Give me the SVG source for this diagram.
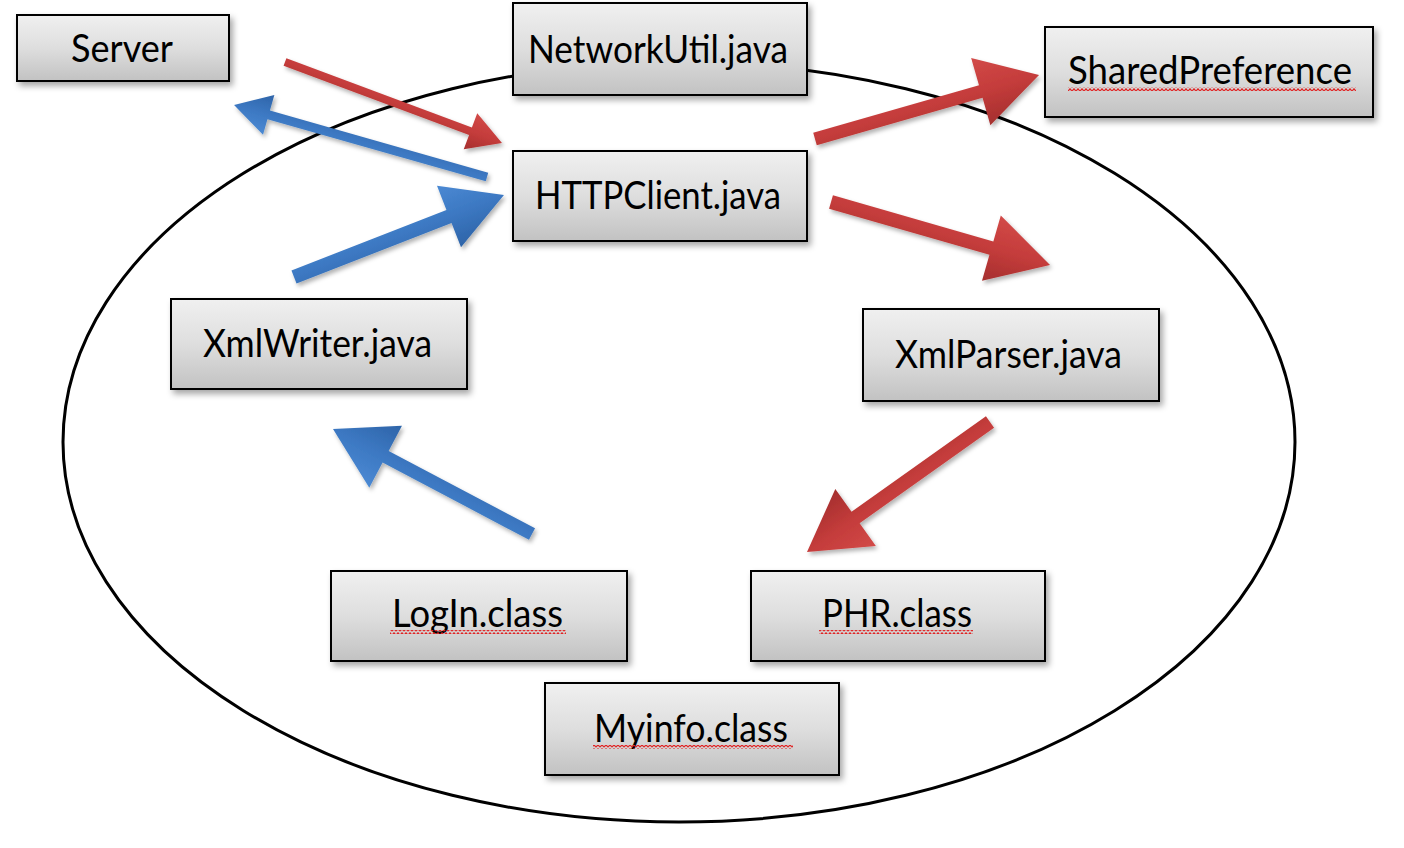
<svg xmlns="http://www.w3.org/2000/svg" width="1404" height="848" viewBox="0 0 1404 848">
<defs>
<linearGradient id="boxg" x1="0" y1="0" x2="0" y2="1"><stop offset="0" stop-color="#f0f0f0"/><stop offset="0.5" stop-color="#dedede"/><stop offset="1" stop-color="#c2c2c2"/></linearGradient>
<linearGradient id="redg" x1="0" y1="0" x2="0" y2="1"><stop offset="0" stop-color="#d24a48"/><stop offset="0.5" stop-color="#c43c3b"/><stop offset="1" stop-color="#a52f2e"/></linearGradient>
<linearGradient id="blueg" x1="0" y1="0" x2="0" y2="1"><stop offset="0" stop-color="#4b89d3"/><stop offset="0.5" stop-color="#3c78c2"/><stop offset="1" stop-color="#2e64a8"/></linearGradient>
<filter id="bshadow" x="-10%" y="-20%" width="130%" height="150%"><feDropShadow dx="3" dy="4" stdDeviation="3" flood-color="#000" flood-opacity="0.35"/></filter>
<filter id="ashadow" x="-10%" y="-20%" width="130%" height="150%"><feDropShadow dx="2" dy="3" stdDeviation="2" flood-color="#000" flood-opacity="0.3"/></filter>
<pattern id="sq" width="4" height="4" patternUnits="userSpaceOnUse"><path d="M0,3.2 L2,0.8 L4,3.2" fill="none" stroke="#e02424" stroke-width="1.2"/></pattern>
</defs>
<style>
.box{fill:url(#boxg);stroke:#000;stroke-width:2;filter:url(#bshadow)}
.lbl{font-family:Lato,"Liberation Sans",sans-serif;font-size:38px;fill:#000}
.red{fill:url(#redg)}
.blue{fill:url(#blueg)}
.sq{fill:url(#sq)}
</style>
<rect width="1404" height="848" fill="#fff"/>
<ellipse cx="679" cy="442" rx="616" ry="380" fill="none" stroke="#000" stroke-width="3"/>

<g id="Server"><rect class="box" x="17" y="15" width="212" height="66"/><text class="lbl" x="71" y="62" textLength="102" lengthAdjust="spacingAndGlyphs">Server</text></g>
<g id="NetworkUtil"><rect class="box" x="513" y="3" width="294" height="92"/><text class="lbl" x="528" y="63" textLength="260" lengthAdjust="spacingAndGlyphs">NetworkUtil.java</text></g>
<g id="HTTPClient"><rect class="box" x="513" y="151" width="294" height="90"/><text class="lbl" x="535" y="209" textLength="246" lengthAdjust="spacingAndGlyphs">HTTPClient.java</text></g>
<g id="SharedPreference"><rect class="box" x="1045" y="27" width="328" height="90"/><text class="lbl" x="1068" y="84" textLength="284" lengthAdjust="spacingAndGlyphs">SharedPreference</text><rect class="sq" x="1068" y="87" width="288" height="4"/></g>
<g id="XmlWriter"><rect class="box" x="171" y="299" width="296" height="90"/><text class="lbl" x="203" y="357" textLength="229" lengthAdjust="spacingAndGlyphs">XmlWriter.java</text></g>
<g id="XmlParser"><rect class="box" x="863" y="309" width="296" height="92"/><text class="lbl" x="895" y="368" textLength="227" lengthAdjust="spacingAndGlyphs">XmlParser.java</text></g>
<g id="LogIn"><rect class="box" x="331" y="571" width="296" height="90"/><text class="lbl" x="392" y="627" textLength="171" lengthAdjust="spacingAndGlyphs">LogIn.class</text><rect class="sq" x="390" y="630" width="176" height="4"/></g>
<g id="PHR"><rect class="box" x="751" y="571" width="294" height="90"/><text class="lbl" x="822" y="627" textLength="150" lengthAdjust="spacingAndGlyphs">PHR.class</text><rect class="sq" x="819" y="630" width="154" height="4"/></g>
<g id="Myinfo"><rect class="box" x="545" y="683" width="294" height="92"/><text class="lbl" x="594" y="742" textLength="194" lengthAdjust="spacingAndGlyphs">Myinfo.class</text><rect class="sq" x="593" y="745" width="200" height="4"/></g>

<g id="connectors">
<g filter="url(#ashadow)"><polygon class="red" transform="translate(285,62) rotate(20.47)" points="0,-4 198,-4 198,-19.3 231.6,0 198,19.3 198,4 0,4"/></g>
<g filter="url(#ashadow)"><polygon class="blue" transform="translate(487,177) rotate(-164.1)" points="0,-4.5 227,-4.5 227,-20.7 263,0 227,20.7 227,4.5 0,4.5"/></g>
<g filter="url(#ashadow)"><polygon class="blue" transform="translate(294,277) rotate(-21.33)" points="0,-7 166.4,-7 166.4,-33 225.4,0 166.4,33 166.4,7 0,7"/></g>
<g filter="url(#ashadow)"><polygon class="red" transform="translate(815,139) rotate(-15.95)" points="0,-6.5 172.4,-6.5 172.4,-35 233,0 172.4,35 172.4,6.5 0,6.5"/></g>
<g filter="url(#ashadow)"><polygon class="red" transform="translate(831,202) rotate(16.05)" points="0,-7 166.9,-7 166.9,-34 227.9,0 166.9,34 166.9,7 0,7"/></g>
<g filter="url(#ashadow)"><polygon class="red" transform="translate(990,422) rotate(144.6)" points="0,-7 164.9,-7 164.9,-35 224.5,0 164.9,35 164.9,7 0,7"/></g>
<g filter="url(#ashadow)"><polygon class="blue" transform="translate(532,534) rotate(-152.18)" points="0,-6.5 165.5,-6.5 165.5,-35 225,0 165.5,35 165.5,6.5 0,6.5"/></g>
</g>
</svg>
